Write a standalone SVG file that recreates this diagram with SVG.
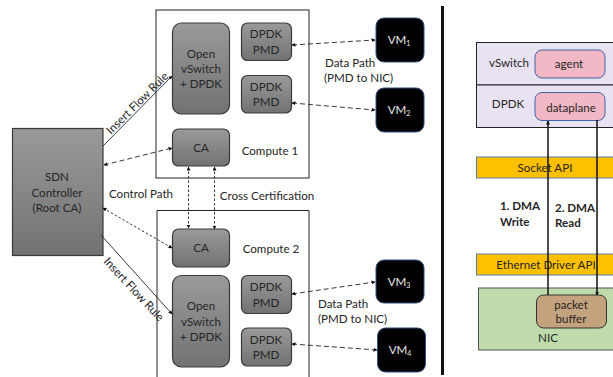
<svg xmlns="http://www.w3.org/2000/svg" width="613" height="377" viewBox="0 0 613 377">
<style>
text{font-family:Lato,"Liberation Sans",sans-serif;font-size:11.600px;fill:#262626;text-anchor:middle}
.g{fill:url(#gr);stroke:#3a3a3a;stroke-width:1.2}
.vm{fill:#000;stroke:#2f4f7f;stroke-width:1}
.vt{fill:#e8e8e8}
.box{fill:#fff;stroke:#222;stroke-width:1}
.c{fill:none;stroke:#222;stroke-width:.9}
.m{stroke-width:1.500;stroke:#111}
.d{stroke-dasharray:5 3}
.s{stroke-dasharray:2.5 2}
.api{fill:#ffc000;stroke:#5b7a9e;stroke-width:1}
.sw{fill:#e9e2f2;stroke:#222;stroke-width:1}
.pk{fill:#f2b8c6;stroke:#3f62a8;stroke-width:1}
.b{font-weight:bold}
.l{text-anchor:start}
</style>
<defs>
<linearGradient id="gr" x1="0" y1="0" x2="0" y2="1"><stop offset="0" stop-color="#9a9a9a"/><stop offset="1" stop-color="#727272"/></linearGradient>
<marker id="a" markerWidth="4" markerHeight="4" refX="3.500" refY="2" orient="auto-start-reverse" markerUnits="userSpaceOnUse"><path d="M0 0L4 2L0 4z" fill="#111"/></marker>
</defs>
<g id="compute1"><rect class="box" x="156" y="10" width="153" height="168"/><text x="270" y="155">Compute 1</text></g>
<g id="compute2"><path class="box" d="M157 377V210.500H309V377"/><text x="271" y="253">Compute 2</text></g>
<g id="divider"><rect x="441" y="6" width="3" height="369" fill="#111"/></g>
<g id="sdn"><rect class="g" x="12.500" y="128.500" width="90.500" height="127"/><text x="57" y="181">SDN</text><text x="57" y="197">Controller</text><text x="57" y="212">(Root CA)</text></g>
<g id="ovs1"><rect class="g" x="172.500" y="23" width="57" height="91" rx="9"/><text x="201" y="58">Open</text><text x="201" y="73">vSwitch</text><text x="201" y="88">+ DPDK</text></g>
<g id="pmd1"><rect class="g" x="241.500" y="23" width="50" height="37.500" rx="6"/><text x="266" y="38">DPDK</text><text x="266" y="54">PMD</text></g>
<g id="pmd2"><rect class="g" x="241.500" y="75.500" width="50" height="37.500" rx="6"/><text x="266" y="91">DPDK</text><text x="266" y="106">PMD</text></g>
<g id="ca1"><rect class="g" x="172.500" y="129" width="57" height="37" rx="6"/><text x="201" y="152">CA</text></g>
<g id="ca2"><rect class="g" x="172.500" y="229" width="57" height="38" rx="6"/><text x="201" y="252">CA</text></g>
<g id="ovs2"><rect class="g" x="172.500" y="275.500" width="57" height="91.500" rx="9"/><text x="201" y="310">Open</text><text x="201" y="326">vSwitch</text><text x="201" y="341">+ DPDK</text></g>
<g id="pmd3"><rect class="g" x="241.500" y="275.500" width="50" height="38" rx="6"/><text x="266" y="291">DPDK</text><text x="266" y="307">PMD</text></g>
<g id="pmd4"><rect class="g" x="241.500" y="328" width="50" height="38" rx="6"/><text x="266" y="344">DPDK</text><text x="266" y="359">PMD</text></g>
<g id="vm1"><rect class="vm" x="376" y="18" width="48" height="44" rx="8"/><text class="vt" x="399" y="44">VM<tspan font-size="7" dy="2">1</tspan></text></g>
<g id="vm2"><rect class="vm" x="376" y="88" width="48" height="44" rx="8"/><text class="vt" x="399" y="114">VM<tspan font-size="7" dy="2">2</tspan></text></g>
<g id="vm3"><rect class="vm" x="376" y="260" width="48" height="43" rx="8"/><text class="vt" x="399" y="286">VM<tspan font-size="7" dy="2">3</tspan></text></g>
<g id="vm4"><rect class="vm" x="377.500" y="328" width="48" height="44" rx="8"/><text class="vt" x="400" y="354">VM<tspan font-size="7" dy="2">4</tspan></text></g>
<text transform="translate(111 135) rotate(-45)" class="l">Insert Flow Rule</text>
<text transform="translate(103 262) rotate(47)" class="l">Insert Flow Rule</text>
<text x="141" y="198">Control Path</text>
<text x="267" y="200">Cross Certification</text>
<text class="l" x="325" y="67">Data Path</text>
<text class="l" x="324" y="82">(PMD to NIC)</text>
<text class="l" x="318" y="308">Data Path</text>
<text class="l" x="318" y="323">(PMD to NIC)</text>
<g id="vswitch"><rect class="sw" x="476.500" y="42.500" width="140" height="42.500"/><text x="509" y="67">vSwitch</text></g>
<g id="dpdk"><rect class="sw" x="476.500" y="85" width="140" height="42.500"/><text x="508" y="108">DPDK</text></g>
<g id="agent"><rect class="pk" x="535" y="50" width="70" height="28" rx="7"/><text x="569" y="68">agent</text></g>
<g id="dataplane"><rect class="pk" x="535" y="92.500" width="70" height="28" rx="7"/><text x="571" y="112">dataplane</text></g>
<g id="socket"><rect class="api" x="476.500" y="157" width="140" height="21"/><text x="545" y="172">Socket API</text></g>
<g id="ethernet"><rect class="api" x="476.500" y="254" width="140" height="21"/><text x="546" y="269">Ethernet Driver API</text></g>
<g id="nic"><rect x="478.500" y="288" width="140" height="62" fill="#c0dbab" stroke="#555" stroke-width="1"/><text x="548" y="342" font-size="13">NIC</text></g>
<g id="packet"><rect x="536.500" y="295" width="70" height="33" rx="7" fill="#c4a27e" stroke="#333" stroke-width="1"/><text x="571" y="309">packet</text><text x="571" y="323">buffer</text></g>
<text class="b l" x="500" y="210">1. DMA</text><text class="b l" x="500" y="226">Write</text>
<text class="b l" x="555" y="212">2. DMA</text><text class="b l" x="555" y="227">Read</text>
<g id="connectors">
<path class="c" d="M103 146L172 76" marker-end="url(#a)"/>
<path class="c d" d="M104 165L172 148" marker-start="url(#a)" marker-end="url(#a)"/>
<path class="c s" d="M103 208L172 248" marker-start="url(#a)" marker-end="url(#a)"/>
<path class="c" d="M101 235L172 314" marker-end="url(#a)"/>
<path class="c s" d="M188.500 167V228" marker-start="url(#a)" marker-end="url(#a)"/>
<path class="c s" d="M214.500 167V229" marker-start="url(#a)" marker-end="url(#a)"/>
<path class="c d" d="M292 45L375 40" marker-start="url(#a)" marker-end="url(#a)"/>
<path class="c d" d="M292 103L375 110" marker-start="url(#a)" marker-end="url(#a)"/>
<path class="c d" d="M292 294L375 282" marker-start="url(#a)" marker-end="url(#a)"/>
<path class="c d" d="M292 344L377 350" marker-start="url(#a)" marker-end="url(#a)"/>
<path class="c m" d="M548 295V121" marker-end="url(#a)"/>
<path class="c m" d="M597 120V295" marker-end="url(#a)"/>
</g>
</svg>
